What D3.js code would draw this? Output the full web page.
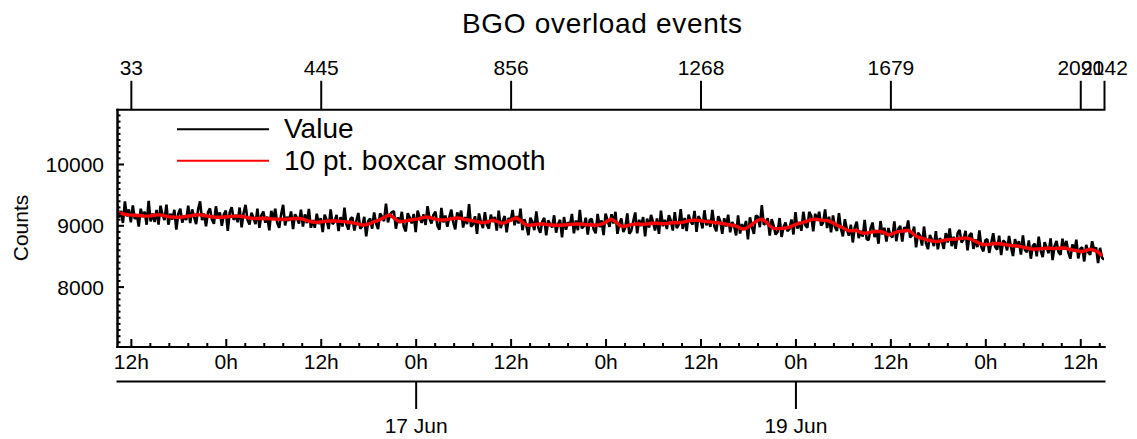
<!DOCTYPE html>
<html>
<head>
<meta charset="utf-8">
<script src="https://cdn.jsdelivr.net/npm/d3@7"></script>
<style>
body { margin: 0; background: #fff; }
text { font-family: "Liberation Sans", Arial, Helvetica, sans-serif; fill: #000; }
</style>
</head>
<body>
<div id="chart"></div>
<script>
// sampling of the two series
const startTime = Date.UTC(2014, 5, 15, 10, 15);
const rawStepMin = 15;
const smoothStepMin = 30;

const rawValues = [
  9350,9128,9235,9038,9390,9145,9260,9048,9325,9103,9180,8980,9270,9135,9220,9010,9400,9065,9190,9055,
  9250,9010,9320,9173,9085,9338,9010,9188,9095,9253,8930,9190,9270,9045,9160,9085,9320,9035,9260,9135,
  9020,9260,9390,9085,9190,8985,9210,9275,9090,9025,9310,9110,9210,8993,9175,9238,8910,9213,9295,9088,
  9170,9050,9290,8965,9200,9333,9085,9013,9205,9123,9020,9270,8960,9163,9225,9043,9140,8918,9235,9093,
  9270,9040,8960,9178,9335,8998,9140,9073,9225,8938,9180,9120,9030,9255,8980,9178,9035,9268,8960,9085,
  8960,9190,9020,9115,8890,9173,9085,8938,9260,9020,9060,9168,8905,9133,8980,9288,9015,8930,9105,9130,
  8915,9068,9200,8943,8985,9138,8820,9070,9110,8945,9210,9030,8940,9195,9140,9068,9355,9048,9170,9215,
  9230,8945,9130,9035,9220,8975,8900,9198,9125,9030,9185,8888,9240,9130,9040,9178,9005,9313,9110,9030,
  9170,9223,8995,8930,9285,9048,9160,8975,9130,9255,9050,8935,9210,9105,9240,8963,9135,9020,9345,8980,
  9015,9148,8860,9193,9055,8955,9215,9005,8945,9175,9055,9135,8915,9240,8955,9068,9150,8885,9120,9065,
  9250,9000,9150,9030,9270,8920,9100,8990,8840,9123,9055,8920,9225,8958,8880,9060,9120,8835,9080,9018,
  8965,9163,8880,9020,9090,8803,9135,8928,9050,9003,9185,8868,9080,8920,9250,8948,8985,9123,8850,9088,
  9105,8933,8870,9185,8970,9080,8840,9190,9080,8975,9180,9030,9220,8860,9030,9110,8890,8968,9195,8863,
  8910,9065,9210,8870,9090,8988,9135,8818,9110,8965,9170,9053,8915,9113,8860,9238,8985,9088,8940,9165,
  9080,8913,9215,8953,9010,9265,8940,9118,8905,9173,9060,9013,9235,8893,9150,9085,8950,9245,9000,9088,
  8975,9250,8985,8903,9150,9065,8860,9115,8980,9173,8885,9053,8990,8835,9160,8865,9020,8925,9070,8770,
  9130,8975,8860,9160,9140,8970,9330,9010,9040,9115,8830,9100,8990,8848,8895,9118,8810,8973,9045,8903,
  8940,9095,8850,9213,8945,9053,8910,9220,9000,8960,9220,9150,8900,9188,9075,9220,8995,9043,9260,8955,
  9140,8885,9160,8970,8910,9198,8945,8818,9100,8935,8830,9010,8720,8965,9060,8790,8910,8815,9090,8775,
  8760,8948,9045,8808,8920,8700,9070,8850,8960,8733,8955,8843,8800,9065,8740,8935,8990,8735,8970,8895,
  9080,8800,8840,8980,8640,8880,8830,8670,8980,8710,8610,8843,8765,8660,8905,8608,8790,8738,8615,8873,
  8720,8950,8660,8813,8615,8870,8925,8718,8770,8910,8590,8840,8870,8615,8770,8643,8915,8645,8575,8755,
  8775,8550,8715,8870,8645,8603,8830,8515,8750,8725,8590,8825,8640,8498,8775,8643,8740,8523,8835,8598,
  8560,8753,8455,8663,8700,8493,8815,8588,8480,8723,8635,8545,8785,8433,8660,8743,8565,8518,8780,8618,
  8745,8555,8455,8688,8570,8765,8460,8615,8640,8410,8680,8560,8520,8740,8600,8638,8385,8633,8470,8440
];

const smoothValues = [
  9220,9195,9180,9170,9165,9160,9160,9150,9150,9160,
  9170,9170,9155,9140,9135,9130,9130,9140,9150,9160,
  9170,9170,9160,9150,9140,9130,9130,9135,9140,9145,
  9150,9150,9140,9125,9115,9110,9110,9115,9110,9105,
  9100,9100,9095,9100,9105,9110,9110,9100,9075,9060,
  9050,9050,9060,9065,9070,9070,9065,9060,9055,9045,
  9035,9020,9005,9010,9030,9060,9080,9110,9145,9170,
  9120,9070,9060,9070,9085,9095,9100,9120,9135,9130,
  9110,9095,9085,9090,9100,9110,9120,9110,9095,9085,
  9075,9060,9045,9045,9065,9085,9065,9035,9040,9070,
  9100,9120,9080,9020,9000,9005,9015,9020,9020,9010,
  9005,9000,9000,9005,9010,9015,9020,9020,9015,9010,
  9005,9000,9010,9030,9070,9100,9060,9000,8980,8995,
  9010,9020,9020,9015,9020,9030,9035,9030,9025,9030,
  9040,9045,9040,9050,9065,9080,9085,9080,9070,9060,
  9055,9045,9040,9030,9020,9005,9000,8970,8940,8950,
  8990,9040,9080,9100,9060,8990,8950,8945,8950,8955,
  8970,9000,9025,9040,9060,9080,9100,9095,9085,9080,
  9070,9040,9000,8975,8940,8910,8910,8920,8880,8870,
  8880,8895,8900,8900,8880,8845,8860,8890,8900,8910,
  8920,8880,8820,8800,8780,8760,8745,8735,8740,8755,
  8770,8770,8775,8785,8790,8790,8770,8740,8705,8685,
  8685,8695,8705,8700,8690,8680,8670,8665,8660,8645,
  8630,8615,8610,8615,8620,8625,8625,8620,8625,8630,
  8625,8605,8590,8580,8570,8590,8610,8590,8565,8500
];

// top axis: sample index at given times
const topTickTimes = [
  Date.UTC(2014, 5, 15, 12), Date.UTC(2014, 5, 16, 12), Date.UTC(2014, 5, 17, 12),
  Date.UTC(2014, 5, 18, 12), Date.UTC(2014, 5, 19, 12), Date.UTC(2014, 5, 20, 12),
  Date.UTC(2014, 5, 20, 15)
];
const topTickLabels = ["33", "445", "856", "1268", "1679", "2090", "2142"];

const dateTickTimes = [Date.UTC(2014, 5, 17), Date.UTC(2014, 5, 19)];
const dateTickLabels = ["17 Jun", "19 Jun"];

const yMajorTicks = [8000, 9000, 10000];
const yDomain = [7023, 10892];

const legendItems = ["Value", "10 pt. boxcar smooth"];
const seriesColors = ["#000000", "#ff0000"];

function styleAxis(g, fontSize) {
    g.attr("font-family", null).attr("font-size", fontSize);
    g.select(".domain").attr("stroke-width", 2).attr("stroke-linecap", "square");
    g.selectAll(".tick line").attr("stroke-width", 2);
    g.selectAll(".tick text").attr("fill", "#000");
}

function initChart(selector) {
    const width = 1137, height = 439;
    const left = 117, right = 1104, top = 109.3, bottom = 346.5;

    const endTime = startTime + (rawValues.length - 1) * rawStepMin * 60000;

    const xScale = d3.scaleUtc()
        .domain([new Date(startTime), new Date(endTime)])
        .range([left, right]);
    const yScale = d3.scaleLinear()
        .domain(yDomain)
        .range([bottom, top]);

    const rawData = rawValues.map((v, i) => ({
        x: new Date(startTime + i * rawStepMin * 60000), y: v
    }));
    const smoothData = smoothValues.map((v, i) => ({
        x: new Date(startTime + i * smoothStepMin * 60000), y: v
    }));

    const svg = d3.select(selector).append("svg")
        .attr("width", width)
        .attr("height", height);

    svg.append("defs").append("clipPath").attr("id", "plot-clip")
        .append("rect")
        .attr("x", left).attr("y", top)
        .attr("width", right - left).attr("height", bottom - top);

    // title
    svg.append("text")
        .attr("x", 602).attr("y", 33)
        .attr("text-anchor", "middle")
        .attr("font-size", 28)
        .attr("textLength", 280)
        .text("BGO overload events");

    // y label
    svg.append("text")
        .attr("transform", "translate(28, 228) rotate(-90)")
        .attr("text-anchor", "middle")
        .attr("font-size", 21)
        .text("Counts");

    // data lines
    const line = d3.line()
        .x(p => xScale(p.x))
        .y(p => yScale(p.y));

    const plot = svg.append("g").attr("clip-path", "url(#plot-clip)");
    plot.append("path")
        .datum(rawData)
        .attr("fill", "none")
        .attr("stroke", seriesColors[0])
        .attr("stroke-width", 2.6)
        .attr("stroke-linejoin", "bevel")
        .attr("d", line);
    plot.append("path")
        .datum(smoothData)
        .attr("fill", "none")
        .attr("stroke", seriesColors[1])
        .attr("stroke-width", 3.4)
        .attr("stroke-linejoin", "round")
        .attr("d", line);

    // left axis
    const yMinor = d3.range(7100, 10900, 100).filter(v => !yMajorTicks.includes(v));
    svg.append("g")
        .attr("transform", `translate(${left},0)`)
        .call(d3.axisLeft(yScale).tickValues(yMinor).tickFormat("")
            .tickSizeInner(-3.5).tickSizeOuter(0))
        .call(g => styleAxis(g, 21));
    svg.append("g")
        .attr("transform", `translate(${left},0)`)
        .call(d3.axisLeft(yScale).tickValues(yMajorTicks).tickFormat(d3.format("d"))
            .tickSizeInner(-7).tickSizeOuter(0).tickPadding(13))
        .call(g => styleAxis(g, 21))
        .call(g => g.selectAll(".tick text").attr("dy", "0.36em"));

    // bottom time axis
    const first12h = Date.UTC(2014, 5, 15, 12);
    const xMinor = d3.range(0, 60)
        .map(k => new Date(first12h + k * 2.4 * 3600000))
        .filter(d => d <= endTime && d.getUTCMinutes() + d.getUTCHours() * 60 !== 0
            && !(d.getUTCHours() === 12 && d.getUTCMinutes() === 0));
    const xMajor = d3.range(0, 11).map(k => new Date(first12h + k * 12 * 3600000));
    svg.append("g")
        .attr("transform", `translate(0,${bottom})`)
        .call(d3.axisBottom(xScale).tickValues(xMinor).tickFormat("")
            .tickSizeInner(-3.5).tickSizeOuter(0))
        .call(g => styleAxis(g, 21));
    svg.append("g")
        .attr("transform", `translate(0,${bottom})`)
        .call(d3.axisBottom(xScale).tickValues(xMajor)
            .tickFormat(d => d.getUTCHours() + "h")
            .tickSizeInner(-7.5).tickSizeOuter(0).tickPadding(8))
        .call(g => styleAxis(g, 21));

    // date axis
    svg.append("g")
        .attr("transform", "translate(0,381)")
        .call(d3.axisBottom(xScale)
            .tickValues(dateTickTimes.map(t => new Date(t)))
            .tickFormat((d, i) => dateTickLabels[i])
            .tickSizeInner(28).tickSizeOuter(0).tickPadding(9))
        .call(g => styleAxis(g, 21));

    // top index axis
    svg.append("g")
        .attr("transform", `translate(0,${top})`)
        .call(d3.axisTop(xScale)
            .tickValues(topTickTimes.map(t => new Date(t)))
            .tickFormat((d, i) => topTickLabels[i])
            .tickSizeInner(28.5).tickSizeOuter(0).tickPadding(6))
        .call(g => styleAxis(g, 21));

    // legend
    const legend = svg.append("g");
    legendItems.forEach((label, i) => {
        const ly = 129.3 + i * 31.4;
        legend.append("line")
            .attr("x1", 177).attr("x2", 269)
            .attr("y1", ly).attr("y2", ly)
            .attr("stroke", seriesColors[i])
            .attr("stroke-width", 2);
        legend.append("text")
            .attr("x", 284).attr("y", ly + 9)
            .attr("font-size", 28)
            .text(label);
    });
}

document.addEventListener('DOMContentLoaded', function () {
    initChart("#chart");
});
</script>
</body>
</html>
